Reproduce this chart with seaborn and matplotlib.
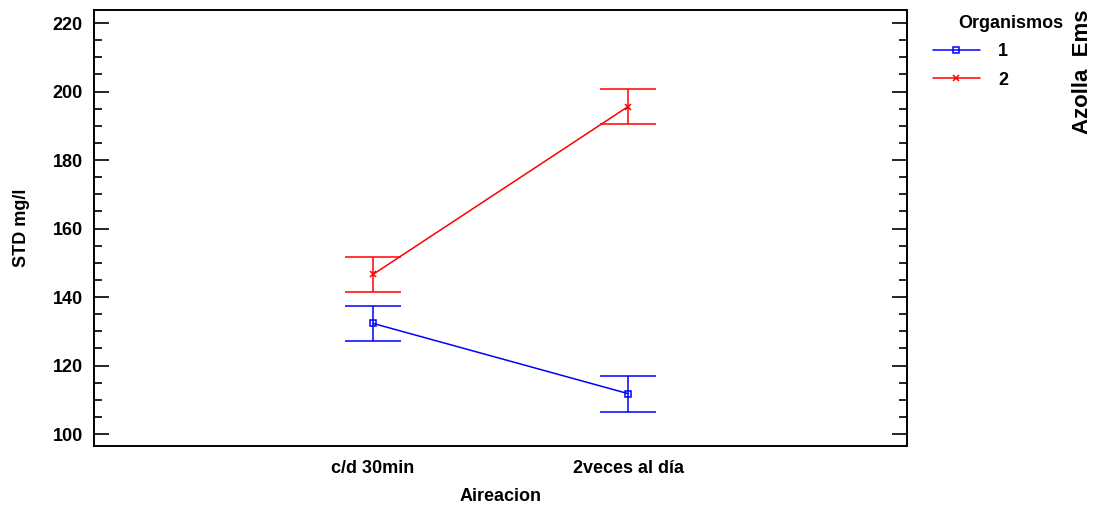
import numpy as np
import pandas as pd
import matplotlib
matplotlib.use('Agg')
import matplotlib.pyplot as plt
import seaborn as sns
from matplotlib.ticker import MultipleLocator

# data
aireacion = ['c/d 30min', '2veces al día']
organismos = ['1', '2']
media_1 = [132.3, 111.8]
inf_1 = [127.2, 106.5]
sup_1 = [137.5, 117.0]
media_2 = [146.6, 195.6]
inf_2 = [141.4, 190.4]
sup_2 = [151.8, 200.6]
colores = ['#0000ff', '#ff0000']

df = pd.DataFrame({
    'Aireacion': aireacion * 2,
    'Organismos': [organismos[0]] * 2 + [organismos[1]] * 2,
    'STD': media_1 + media_2,
    'inf': inf_1 + inf_2,
    'sup': sup_1 + sup_2,
})

sns.set_style('ticks', {'axes.edgecolor': 'black', 'text.color': 'black',
                        'xtick.color': 'black', 'ytick.color': 'black',
                        'axes.labelcolor': 'black'})
plt.rcParams['font.family'] = ['Liberation Sans Narrow', 'Liberation Sans', 'DejaVu Sans']
plt.rcParams['font.weight'] = 'bold'

fig = plt.figure(figsize=(10.97, 5.12), dpi=100)
ax = fig.add_axes([94 / 1097, 1 - 446 / 512, (907 - 94) / 1097, (446 - 10) / 512])

sns.pointplot(data=df, x='Aireacion', y='STD', hue='Organismos', order=aireacion,
              hue_order=organismos, palette=colores, markers=['s', 'x'],
              linestyles=['-', '-'], errorbar=None, dodge=False, ax=ax,
              markersize=5, linewidth=1.1, markerfacecolor='none', markeredgewidth=1.1)

# confidence intervals
for org, col in zip(organismos, colores):
    d = df[df['Organismos'] == org]
    xpos = [aireacion.index(a) for a in d['Aireacion']]
    ax.errorbar(xpos, d['STD'], yerr=[d['STD'] - d['inf'], d['sup'] - d['STD']],
                fmt='none', ecolor=col, elinewidth=1.1, capsize=20, capthick=1.1)

ax.set_xlim(-1.094, 2.094)
ax.set_ylim(96.5, 223.8)
ax.yaxis.set_major_locator(MultipleLocator(20))
ax.yaxis.set_minor_locator(MultipleLocator(5))
ax.tick_params(axis='y', which='major', direction='in', length=11, width=1.2,
               left=True, right=True, labelsize=13, pad=8)
ax.tick_params(axis='y', which='minor', direction='in', length=6, width=1.2,
               left=True, right=True)
ax.tick_params(axis='x', length=0, labelsize=13, pad=10)
for s in ax.spines.values():
    s.set_visible(True)
    s.set_linewidth(1.4)
for lab in ax.get_xticklabels() + ax.get_yticklabels():
    lab.set_fontweight('bold')

ax.set_xlabel('Aireacion', fontsize=13, fontweight='bold', labelpad=8)
ax.set_ylabel('STD mg/l', fontsize=13, fontweight='bold', labelpad=16)

handles, labels = ax.get_legend_handles_labels()
ax.legend(handles[:2], labels[:2], loc='upper left',
          bbox_to_anchor=(933 / 1097, 1 - 43 / 512), bbox_transform=fig.transFigure,
          frameon=False, fontsize=13, borderpad=0, borderaxespad=0,
          handlelength=2.6, handletextpad=1.0, labelspacing=0.65)
fig.text(958 / 1097, 1 - 24 / 512, 'Organismos', ha='left', va='center',
         fontsize=13, fontweight='bold')

fig.text(1083 / 1097, 1 - 9 / 512, 'Azolla  Ems', rotation=90, ha='center', va='top',
         fontsize=16, fontweight='bold')

fig.savefig('out.png', dpi=100)
